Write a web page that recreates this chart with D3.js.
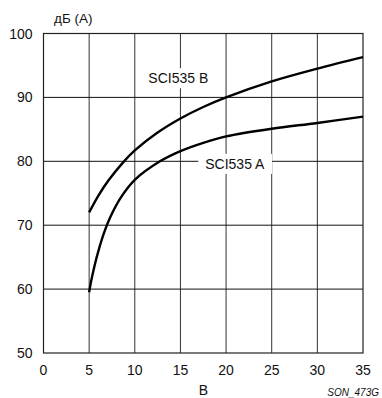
<!DOCTYPE html>
<html><head><meta charset="utf-8">
<script src="https://cdn.jsdelivr.net/npm/d3@7"></script>
<style>html,body{margin:0;padding:0;background:#fff;}svg{display:block;font-family:"Liberation Sans",Arial,sans-serif;}</style>
</head><body>
<svg id="c" width="382" height="398"></svg>
<script>
const xTicks = [0, 5, 10, 15, 20, 25, 30, 35];
const yTicks = [50, 60, 70, 80, 90, 100];
const seriesA_x = [5, 5.2, 5.6, 6.08, 6.63, 7.36, 8.5, 10, 12.76, 15, 17.5, 20, 25, 30, 35];
const seriesA_y = [59.5, 61.1, 63.7, 66.3, 68.8, 71.4, 74.4, 77.1, 80, 81.6, 82.9, 83.9, 85.1, 86, 87];
const seriesB_x = [5, 6, 7.17, 8.7, 10, 12.5, 15, 17.5, 20, 25, 30, 35];
const seriesB_y = [72, 74.6, 77.1, 79.8, 81.7, 84.5, 86.7, 88.5, 90, 92.5, 94.5, 96.3];
const labels = ["SCI535 B", "SCI535 A"];
const labelPos = [[14.77, 93.0], [20.96, 79.6]];

const svg = d3.select("#c");
const x = d3.scaleLinear().domain([0, 35]).range([43.5, 363]);
const y = d3.scaleLinear().domain([50, 100]).range([353, 33.5]);

// grid
svg.append("g").selectAll("line").data(xTicks.slice(1, -1)).join("line")
  .attr("x1", d => x(d)).attr("x2", d => x(d)).attr("y1", y(50)).attr("y2", y(100))
  .attr("stroke", "#333").attr("stroke-width", 1);
svg.append("g").selectAll("line").data(yTicks.slice(1, -1)).join("line")
  .attr("x1", x(0)).attr("x2", x(35)).attr("y1", d => y(d)).attr("y2", d => y(d))
  .attr("stroke", "#111").attr("stroke-width", 1);
svg.append("rect").attr("x", x(0)).attr("y", y(100)).attr("width", x(35) - x(0)).attr("height", y(50) - y(100))
  .attr("fill", "none").attr("stroke", "#222").attr("stroke-width", 1.2);

const line = d3.line().x(d => x(d[0])).y(d => y(d[1])).curve(d3.curveCatmullRom.alpha(0.5));
[[seriesB_x, seriesB_y], [seriesA_x, seriesA_y]].forEach(([xs, ys]) => {
  svg.append("path").datum(xs.map((v, i) => [v, ys[i]])).attr("d", line)
    .attr("fill", "none").attr("stroke", "#000").attr("stroke-width", 2.4);
});

// labels with white boxes
labels.forEach((t, i) => {
  const g = svg.append("g");
  const txt = g.append("text").attr("x", x(labelPos[i][0])).attr("y", y(labelPos[i][1]))
    .attr("text-anchor", "middle").attr("dominant-baseline", "central")
    .attr("font-size", 14).attr("fill", "#111").text(t);
  const bb = txt.node().getBBox();
  g.insert("rect", "text").attr("x", bb.x - 7).attr("y", bb.y - 2).attr("width", bb.width + 14).attr("height", bb.height + 4).attr("fill", "#fff");
});

// axes labels
svg.append("g").selectAll("text").data(yTicks).join("text")
  .attr("x", 32.5).attr("y", d => y(d)).attr("text-anchor", "end").attr("dominant-baseline", "central")
  .attr("font-size", 14).attr("fill", "#111").text(d => d);
svg.append("g").selectAll("text").data(xTicks).join("text")
  .attr("x", d => x(d)).attr("y", 375).attr("text-anchor", "middle")
  .attr("font-size", 14).attr("fill", "#111").text(d => d);
svg.append("text").attr("x", 54).attr("y", 23).attr("font-size", 13.5).attr("fill", "#111").text("дБ (A)");
svg.append("text").attr("x", 203.5).attr("y", 395).attr("text-anchor", "middle").attr("font-size", 14).attr("fill", "#111").text("В");
svg.append("text").attr("x", 379).attr("y", 396).attr("text-anchor", "end").attr("font-size", 10).attr("font-style", "italic").attr("fill", "#111").text("SON_473G");
</script>
</body></html>
